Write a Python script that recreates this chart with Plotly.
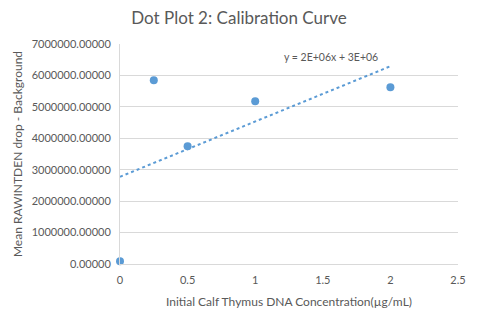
import numpy as np
import plotly.graph_objects as go

x_vals = [0, 0.25, 0.5, 1, 2]
y_vals = [85000, 5845000, 3745000, 5176000, 5620000]
x_ticks = [0, 0.5, 1, 1.5, 2, 2.5]
y_ticks = [0, 1000000, 2000000, 3000000, 4000000, 5000000, 6000000, 7000000]

slope, intercept = np.polyfit(x_vals, y_vals, 1)
tx = [min(x_vals), max(x_vals)]
ty = [slope * v + intercept for v in tx]

FONT = "Lato"
GREY = "#595959"
BLUE = "#5b9bd5"

fig = go.Figure()
fig.add_trace(go.Scatter(x=tx, y=ty, mode="lines",
                         line=dict(color=BLUE, width=2, dash="dot"),
                         hoverinfo="skip", showlegend=False))
fig.add_trace(go.Scatter(x=x_vals, y=y_vals, mode="markers",
                         marker=dict(color=BLUE, size=8), showlegend=False, cliponaxis=False))

fig.update_layout(
    width=478, height=324,
    margin=dict(l=120, r=20, t=44, b=60),
    paper_bgcolor="white", plot_bgcolor="white",
    font=dict(family=FONT, color=GREY, size=11),
    title=dict(text="Dot Plot 2: Calibration Curve", x=0.5, xanchor="center",
               y=1 - 18/324, yanchor="middle",
               font=dict(size=17, color=GREY, family=FONT)),
    xaxis=dict(range=[0, 2.5], tickvals=x_ticks, ticktext=[str(v) for v in x_ticks],
               showgrid=False, zeroline=False, showline=True, linecolor="#d9d9d9",
               ticks="", ticklabelstandoff=6,
               title=dict(text="Initial Calf Thymus DNA Concentration(µg/mL)",
                          font=dict(size=12, color=GREY), standoff=12)),
    yaxis=dict(range=[0, 7000000], tickvals=y_ticks,
               ticktext=[f"{v:.5f}" for v in y_ticks],
               showgrid=True, gridcolor="#d9d9d9", zeroline=False,
               showline=True, linecolor="#d9d9d9", ticks="", ticklabelstandoff=6,
               title=dict(text="Mean RAWINTDEN drop - Background",
                          font=dict(size=12, color=GREY), standoff=6)),
    annotations=[dict(text="y = 2E+06x + 3E+06", x=1.56, y=6590000,
                      xref="x", yref="y", showarrow=False,
                      font=dict(size=10.5, color=GREY, family=FONT))],
)

fig.write_html("out.html")
